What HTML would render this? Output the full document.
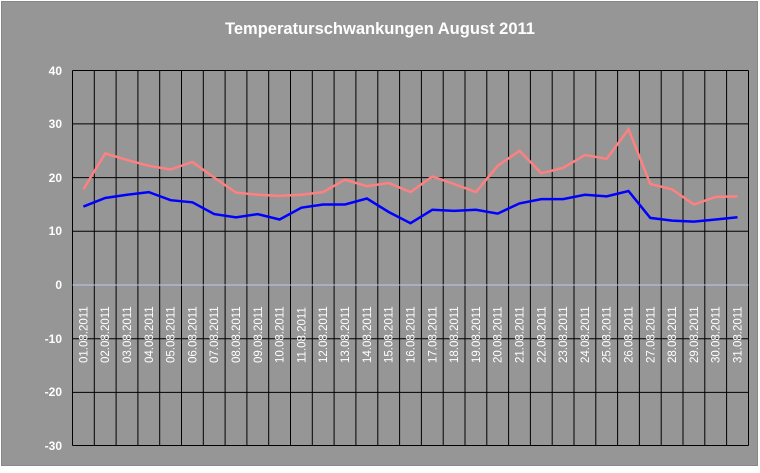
<!DOCTYPE html><html><head><style>body{margin:0;background:#fff}</style></head><body>
<svg width="760" height="468" xmlns="http://www.w3.org/2000/svg" font-family="Liberation Sans, Arial, sans-serif">
<rect x="1.5" y="1.5" width="756" height="464" fill="#969696" stroke="#888"/>
<text x="380" y="34" fill="#fff" font-size="16.5" font-weight="bold" text-anchor="middle">Temperaturschwankungen August 2011</text>
<g stroke="#000" stroke-width="1">
<line x1="72.5" x2="748.5" y1="70.5" y2="70.5"/>
<line x1="72.5" x2="748.5" y1="123.9" y2="123.9"/>
<line x1="72.5" x2="748.5" y1="177.6" y2="177.6"/>
<line x1="72.5" x2="748.5" y1="231.3" y2="231.3"/>
<line x1="72.5" x2="748.5" y1="338.7" y2="338.7"/>
<line x1="72.5" x2="748.5" y1="392.4" y2="392.4"/>
<line x1="72.5" x2="748.5" y1="445.5" y2="445.5"/>
<line x1="72.5" x2="72.5" y1="70.5" y2="445.5"/><line x1="94.3" x2="94.3" y1="70.5" y2="445.5"/><line x1="116.1" x2="116.1" y1="70.5" y2="445.5"/><line x1="137.9" x2="137.9" y1="70.5" y2="445.5"/><line x1="159.7" x2="159.7" y1="70.5" y2="445.5"/><line x1="181.5" x2="181.5" y1="70.5" y2="445.5"/><line x1="203.3" x2="203.3" y1="70.5" y2="445.5"/><line x1="225.1" x2="225.1" y1="70.5" y2="445.5"/><line x1="246.9" x2="246.9" y1="70.5" y2="445.5"/><line x1="268.7" x2="268.7" y1="70.5" y2="445.5"/><line x1="290.5" x2="290.5" y1="70.5" y2="445.5"/><line x1="312.3" x2="312.3" y1="70.5" y2="445.5"/><line x1="334.1" x2="334.1" y1="70.5" y2="445.5"/><line x1="355.9" x2="355.9" y1="70.5" y2="445.5"/><line x1="377.8" x2="377.8" y1="70.5" y2="445.5"/><line x1="399.6" x2="399.6" y1="70.5" y2="445.5"/><line x1="421.4" x2="421.4" y1="70.5" y2="445.5"/><line x1="443.2" x2="443.2" y1="70.5" y2="445.5"/><line x1="465.0" x2="465.0" y1="70.5" y2="445.5"/><line x1="486.8" x2="486.8" y1="70.5" y2="445.5"/><line x1="508.6" x2="508.6" y1="70.5" y2="445.5"/><line x1="530.4" x2="530.4" y1="70.5" y2="445.5"/><line x1="552.2" x2="552.2" y1="70.5" y2="445.5"/><line x1="574.0" x2="574.0" y1="70.5" y2="445.5"/><line x1="595.8" x2="595.8" y1="70.5" y2="445.5"/><line x1="617.6" x2="617.6" y1="70.5" y2="445.5"/><line x1="639.4" x2="639.4" y1="70.5" y2="445.5"/><line x1="661.2" x2="661.2" y1="70.5" y2="445.5"/><line x1="683.0" x2="683.0" y1="70.5" y2="445.5"/><line x1="704.8" x2="704.8" y1="70.5" y2="445.5"/><line x1="726.6" x2="726.6" y1="70.5" y2="445.5"/><line x1="748.5" x2="748.5" y1="70.5" y2="445.5"/>
</g>
<line x1="72.5" x2="748.5" y1="285" y2="285" stroke="#b8cce4"/>
<g fill="#fff" font-size="12" font-weight="bold" text-anchor="end">
<text x="62" y="75">40</text><text x="62" y="128">30</text><text x="62" y="182">20</text><text x="62" y="235">10</text><text x="62" y="289">0</text><text x="62" y="343">-10</text><text x="62" y="396">-20</text><text x="62" y="450">-30</text>
</g>
<g fill="#fff" font-size="11.5">
<text transform="translate(87.4,363) rotate(-90)">01.08.2011</text>
<text transform="translate(109.2,363) rotate(-90)">02.08.2011</text>
<text transform="translate(131.0,363) rotate(-90)">03.08.2011</text>
<text transform="translate(152.8,363) rotate(-90)">04.08.2011</text>
<text transform="translate(174.6,363) rotate(-90)">05.08.2011</text>
<text transform="translate(196.4,363) rotate(-90)">06.08.2011</text>
<text transform="translate(218.2,363) rotate(-90)">07.08.2011</text>
<text transform="translate(240.0,363) rotate(-90)">08.08.2011</text>
<text transform="translate(261.8,363) rotate(-90)">09.08.2011</text>
<text transform="translate(283.6,363) rotate(-90)">10.08.2011</text>
<text transform="translate(305.4,363) rotate(-90)">11.08.2011</text>
<text transform="translate(327.2,363) rotate(-90)">12.08.2011</text>
<text transform="translate(349.0,363) rotate(-90)">13.08.2011</text>
<text transform="translate(370.9,363) rotate(-90)">14.08.2011</text>
<text transform="translate(392.7,363) rotate(-90)">15.08.2011</text>
<text transform="translate(414.5,363) rotate(-90)">16.08.2011</text>
<text transform="translate(436.3,363) rotate(-90)">17.08.2011</text>
<text transform="translate(458.1,363) rotate(-90)">18.08.2011</text>
<text transform="translate(479.9,363) rotate(-90)">19.08.2011</text>
<text transform="translate(501.7,363) rotate(-90)">20.08.2011</text>
<text transform="translate(523.5,363) rotate(-90)">21.08.2011</text>
<text transform="translate(545.3,363) rotate(-90)">22.08.2011</text>
<text transform="translate(567.1,363) rotate(-90)">23.08.2011</text>
<text transform="translate(588.9,363) rotate(-90)">24.08.2011</text>
<text transform="translate(610.7,363) rotate(-90)">25.08.2011</text>
<text transform="translate(632.5,363) rotate(-90)">26.08.2011</text>
<text transform="translate(654.3,363) rotate(-90)">27.08.2011</text>
<text transform="translate(676.1,363) rotate(-90)">28.08.2011</text>
<text transform="translate(697.9,363) rotate(-90)">29.08.2011</text>
<text transform="translate(719.7,363) rotate(-90)">30.08.2011</text>
<text transform="translate(741.5,363) rotate(-90)">31.08.2011</text>
</g>
<polyline fill="none" stroke="#ff8080" stroke-width="2.5" points="83.4,189.4 105.2,153.4 127.0,159.9 148.8,165.8 170.6,169.5 192.4,162.0 214.2,177.6 236.0,192.6 257.8,194.8 279.6,195.9 301.4,194.8 323.2,192.1 345.0,179.7 366.9,186.2 388.7,183.0 410.5,192.1 432.3,176.5 454.1,184.0 475.9,192.1 497.7,165.8 519.5,150.8 541.3,173.3 563.1,167.9 584.9,155.0 606.7,158.8 628.5,129.3 650.3,184.0 672.1,189.4 693.9,204.5 715.7,196.9 737.5,196.4"/>
<polyline fill="none" stroke="#0000ff" stroke-width="2.5" points="83.4,206.6 105.2,198.0 127.0,194.8 148.8,192.1 170.6,200.2 192.4,202.3 214.2,214.1 236.0,217.3 257.8,214.1 279.6,219.5 301.4,207.7 323.2,204.5 345.0,204.5 366.9,198.5 388.7,212.0 410.5,223.2 432.3,209.8 454.1,210.9 475.9,209.8 497.7,213.6 519.5,203.4 541.3,199.1 563.1,199.1 584.9,194.8 606.7,196.4 628.5,191.0 650.3,217.9 672.1,220.6 693.9,221.6 715.7,219.5 737.5,217.3"/>
</svg></body></html>
